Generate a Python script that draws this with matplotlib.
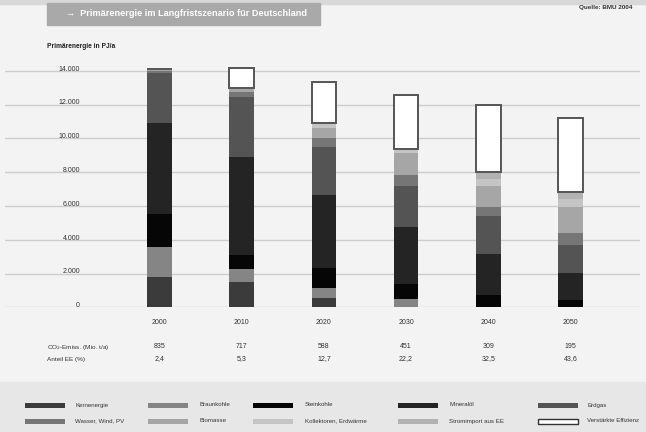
import numpy as np
import matplotlib
matplotlib.use('Agg')
import matplotlib.pyplot as plt
from matplotlib.patches import Rectangle

plt.rcParams['font.family'] = ['Liberation Sans Narrow', 'Liberation Sans', 'DejaVu Sans']

years = ['2000', '2010', '2020', '2030', '2040', '2050']

# primary energy by source, PJ/a
kernenergie = [1810, 1520, 530, 0, 0, 0]
braunkohle = [1740, 730, 590, 470, 0, 0]
steinkohle = [1970, 850, 1180, 910, 730, 430]
mineraloel = [5360, 5820, 4340, 3390, 2430, 1580]
erdgas = [3000, 3510, 2860, 2410, 2250, 1680]
wasser = [90, 300, 490, 650, 550, 730]
biomasse = [110, 230, 640, 1280, 1220, 1540]
kollektoren = [0, 0, 250, 240, 390, 440]
stromimport = [0, 0, 0, 0, 420, 450]
effizienz = [0, 1180, 2470, 3210, 3980, 4340]

co2 = ['835', '717', '588', '451', '309', '195']
anteil_ee = ['2,4', '5,3', '12,7', '22,2', '32,5', '43,6']
yticks = [0, 2000, 4000, 6000, 8000, 10000, 12000, 14000]

series = [
    ('Kernenergie', kernenergie, '#3b3b3b'),
    ('Braunkohle', braunkohle, '#858585'),
    ('Steinkohle', steinkohle, '#060606'),
    ('Mineralöl', mineraloel, '#242424'),
    ('Erdgas', erdgas, '#545454'),
    ('Wasser, Wind, PV', wasser, '#767676'),
    ('Biomasse', biomasse, '#a6a6a6'),
    ('Kollektoren, Erdwärme', kollektoren, '#c4c4c4'),
    ('Stromimport aus EE', stromimport, '#b2b2b2'),
    ('Verstärkte Effizienz', effizienz, 'white'),
]

W, H = 646, 432
fig = plt.figure(figsize=(W / 100, H / 100), dpi=100)
fig.patch.set_facecolor('#f3f3f3')

def px(x, y):
    return x / W, 1 - y / H

# background bands
fig.patches.append(Rectangle((0, 1 - 4 / H), 1, 4 / H, transform=fig.transFigure,
                             color='#d8d8d8', zorder=0))
fig.patches.append(Rectangle((0, 0), 1, 50 / H, transform=fig.transFigure,
                             color='#e7e7e7', zorder=0))
# title banner
bx, by = px(47, 25)
fig.patches.append(Rectangle((bx, by), (320 - 47) / W, 22 / H, transform=fig.transFigure,
                             color='#a9a9a9', zorder=1))
fig.text(*px(66, 14), '→  Primärenergie im Langfristszenario für Deutschland',
         color='white', fontsize=6.6, fontweight='bold', va='center', ha='left')
fig.text(*px(632, 8), 'Quelle: BMU 2004', color='#333333', fontsize=4.6,
         fontweight='bold', va='center', ha='right')
fig.text(*px(47, 47), 'Primärenergie in PJ/a', color='#222222', fontsize=4.8,
         fontweight='bold', va='center', ha='left')

# axes: 0 PJ at y=307, 1000 PJ = 16.9 px, bars 82.2 px apart
y0, k = 307.3, 16.9 / 1000
ytop = 14500
ax = fig.add_axes([5 / W, (H - y0) / H, 635 / W, ytop * k / H])
ax.set_facecolor('none')
for s in ax.spines.values():
    s.set_visible(False)
ax.set_xticks([])
ax.set_yticks([])
step = 82.2
ax.set_xlim((5 - 159.5) / step, (640 - 159.5) / step)
ax.set_ylim(0, ytop)

for t in yticks:
    ax.axhline(t, color='#cdcdcd', lw=1, zorder=1)
    ax.text((80 - 159.5) / step, t + 90, f'{t:,}'.replace(',', '.'), ha='right',
            va='center', fontsize=5, color='#333333')

x = np.arange(len(years))
bottom = np.zeros(len(years))
for name, vals, col in series:
    vals = np.array(vals, dtype=float)
    if name == 'Verstärkte Effizienz':
        ax.bar(x, vals, 0.3, bottom=bottom, color=col, edgecolor='#555555',
               linewidth=1.4, zorder=3)
    else:
        ax.bar(x, vals, 0.3, bottom=bottom, color=col, linewidth=0, zorder=3)
    bottom += vals

# years and table rows
for i, yr in enumerate(years):
    xf = (159.5 + i * step) / W
    fig.text(xf, 1 - 322 / H, yr, ha='center', va='center', fontsize=5, color='#333333')
    fig.text(xf, 1 - 347 / H, co2[i], ha='center', va='center', fontsize=5, color='#333333')
    fig.text(xf, 1 - 359 / H, anteil_ee[i], ha='center', va='center', fontsize=5, color='#333333')
fig.text(*px(47, 347), 'CO$_2$-Emiss. (Mio. t/a)', ha='left', va='center', fontsize=4.6,
         color='#333333')
fig.text(*px(47, 359), 'Anteil EE (%)', ha='left', va='center', fontsize=4.6, color='#333333')

# legend in two rows of five
cols_x = [(25, 75), (148, 199), (253, 305), (398, 449), (538, 587)]
rows_y = [405, 421]
for j, (name, vals, col) in enumerate(series):
    r, c = (0, j) if j < 5 else (1, j - 5)
    sx, tx = cols_x[c]
    yy = rows_y[r]
    ec = '#333333' if col == 'white' else 'none'
    lx, ly = px(sx, yy + 2.5)
    fig.patches.append(Rectangle((lx, ly), 40 / W, 5 / H, transform=fig.transFigure,
                                 facecolor=col, edgecolor=ec, linewidth=1, zorder=2))
    fig.text(*px(tx, yy), name, ha='left', va='center', fontsize=4.4, color='#333333')

fig.savefig('out.png', dpi=100, facecolor=fig.get_facecolor())
